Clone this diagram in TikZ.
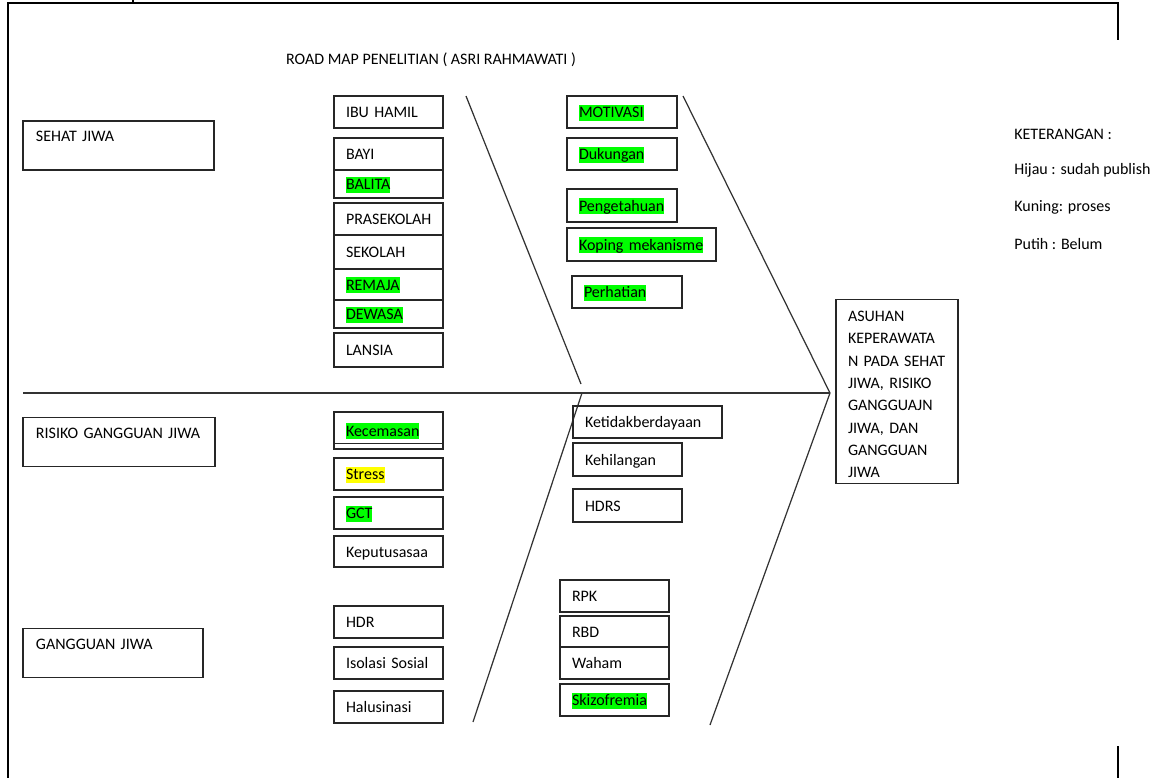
\documentclass[tikz,border=0pt]{standalone}
\usepackage{fontspec}
\setmainfont{Carlito}
\definecolor{hijau}{HTML}{00FF00}
\definecolor{kuning}{HTML}{FFFF00}
\def\teks{\fontsize{9.1}{10.5}\selectfont}
\newcommand{\sorot}[2][hijau]{{\setlength\fboxsep{0pt}\colorbox{#1}{\rule[-1.7pt]{0pt}{9.1pt}#2}}}
\tikzset{
	boxline/.style={draw=black!85, line width=0.8pt},
	kotak/.style 2 args={boxline, rectangle, minimum width=#1*0.02cm, minimum height=#2*0.02cm,
		text width=#1*0.02cm-0.48cm, inner xsep=0.24cm, inner ysep=0pt, align=left,
		text height=8pt, text depth=1.2pt, font=\teks},
	topik/.style={boxline, rectangle, minimum width=#1*0.02cm, text width=#1*0.02cm-0.52cm,
		inner xsep=0.26cm, inner ysep=0pt, align=left, text height=0.41cm, text depth=0.57cm, font=\teks},
	tulang/.style={draw=black!80, line width=0.7pt},
	bingkai/.style={line width=1.2pt},
	tulisan/.style={anchor=west, inner sep=0pt, font=\teks},
}

\begin{document}
\begin{tikzpicture}[x=0.02cm, y=-0.02cm]
		%%%%% START %%%%%
		\useasboundingbox (0, 0) rectangle (1161, 778);
		
		\draw[bingkai] (8, 778) -- (8, 3) -- (1118, 3) -- (1118, 40);
		\draw[bingkai] (1118, 746) -- (1118, 778);
		\draw[line width=0.8pt] (133, 0) -- (133, 3);
		
		\node[font=\teks, inner sep=0pt] (judul) at (431, 60) {ROAD MAP PENELITIAN ( ASRI RAHMAWATI )};
		
		% topik kiri
		\node[topik=191] (sehat) at (118.5, 145.5) {SEHAT JIWA};
		\node[topik=192] (risiko) at (119, 442) {RISIKO GANGGUAN JIWA};
		\node[topik=180] (gangguan) at (113, 653) {GANGGUAN JIWA};
		
		% tulang ikan
		\coordinate (kepala) at (830, 393);
		\draw[tulang] (23, 393) -- (kepala);
		\draw[tulang] (466, 96) -- (581, 384);
		\draw[tulang] (582, 393) -- (473, 722);
		\draw[tulang] (683, 96) -- (kepala) -- (710, 725);
		
		% kolom 1 atas
		\node[kotak={109}{32}] (ibu) at (388.5, 112) {IBU HAMIL};
		\node[kotak={109}{32}] (bayi) at (388.5, 154) {BAYI};
		\node[kotak={109}{28}] (balita) at (388.5, 184) {\sorot{BALITA}};
		\node[kotak={109}{32}] (prasekolah) at (388.5, 219) {PRASEKOLAH};
		\node[kotak={109}{34}] (sekolah) at (388.5, 252) {SEKOLAH};
		\node[kotak={109}{31}] (remaja) at (388.5, 284.5) {\sorot{REMAJA}};
		\node[kotak={109}{28}] (dewasa) at (388.5, 314) {\sorot{DEWASA}};
		\node[kotak={109}{34}] (lansia) at (388.5, 350) {LANSIA};
		
		% kolom 1 bawah
		\node[kotak={109}{37}] (kecemasan) at (388.5, 430.5) {\sorot{Kecemasan}};
		\draw[boxline] ([yshift=0.12cm]kecemasan.south west) -- ([yshift=0.12cm]kecemasan.south east);
		\node[kotak={109}{32}] (stress) at (388.5, 474) {\sorot[kuning]{Stress}};
		\node[kotak={109}{32}] (gct) at (388.5, 513) {\sorot{GCT}};
		\node[kotak={109}{31}] (putusasa) at (388.5, 551.5) {Keputusasaa};
		\node[kotak={109}{32}] (hdr) at (388.5, 622) {HDR};
		\node[kotak={109}{32}] (isolasi) at (388.5, 663) {Isolasi Sosial};
		\node[kotak={109}{32}] (halusinasi) at (388.5, 707) {Halusinasi};
		
		% kolom 2 atas
		\node[kotak={110}{32}] (motivasi) at (622, 112) {\sorot{MOTIVASI}};
		\node[kotak={110}{32}] (dukungan) at (622, 154) {\sorot{Dukungan}};
		\node[kotak={110}{33}] (pengetahuan) at (622, 205.5) {\sorot{Pengetahuan}};
		\node[kotak={149}{33}] (koping) at (641.5, 244.5) {\sorot{Koping mekanisme}};
		\node[kotak={110}{32}] (perhatian) at (627, 292) {\sorot{Perhatian}};
		
		% kolom 2 bawah
		\node[kotak={149}{32}] (tdkberdaya) at (647.5, 422) {Ketidakberdayaan};
		\node[kotak={109}{33}] (kehilangan) at (627.5, 459.5) {Kehilangan};
		\node[kotak={109}{33}] (hdrs) at (627.5, 505.5) {HDRS};
		\node[kotak={109}{32}] (rpk) at (614.5, 596) {RPK};
		\node[kotak={109}{31}] (rbd) at (614.5, 631.5) {RBD};
		\node[kotak={109}{32}] (waham) at (614.5, 663) {Waham};
		\node[kotak={109}{32}] (skizo) at (614.5, 700) {\sorot{Skizofremia}};
		
		% kepala ikan
		\node[boxline, minimum width=122*0.02cm, minimum height=183*0.02cm, text width=98*0.02cm,
			inner xsep=0.24cm, align=left, font=\fontsize{9.1}{12.7}\selectfont] (asuhan) at (897, 391.5)
			{\rule{0pt}{9.3pt}ASUHAN\\KEPERAWATA\\N PADA SEHAT\\JIWA, RISIKO\\GANGGUAJN\\JIWA, DAN\\GANGGUAN\\JIWA};
		
		% keterangan
		\node[tulisan] (keterangan) at (1014, 134) {KETERANGAN :};
		\node[tulisan] (ket-hijau) at (1014, 170) {Hijau : sudah publish};
		\node[tulisan] (ket-kuning) at (1014, 207) {Kuning: proses};
		\node[tulisan] (ket-putih) at (1014, 244) {Putih : Belum};
		
		%%%%% END %%%%%
	\end{tikzpicture}
\end{document}
